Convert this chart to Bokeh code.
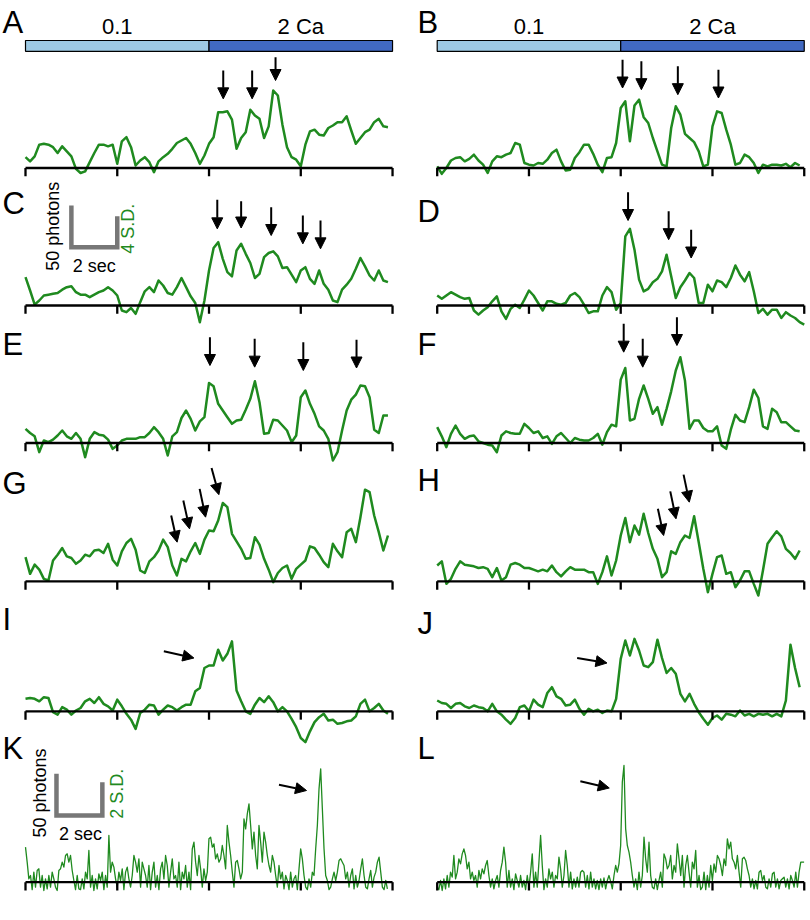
import numpy as np
from bokeh.plotting import figure
from bokeh.layouts import row
from bokeh.models import ColumnDataSource, Arrow, NormalHead, Range1d
from bokeh.embed import file_html
from bokeh.resources import INLINE
from bokeh.core.properties import value

# ---------------- data ----------------
DT = 0.2          # s per sample (smoothed traces A-J)
DT_RAW = 0.0727   # s per sample (raw traces K, L)
SEC_TICKS = [0, 4, 8, 12, 16]
COND_LABELS = ["0.1", "2 Ca"]
COND_START = [0, 8]
COND_END = [8, 16]
SCALE_SEC = 2
SCALE_PHOTONS = 50
SD_BAR_C = 37     # 4 S.D. in photons
SD_BAR_K = 40     # 2 S.D. in photons

trace_A = [13,8,14,28,29,28,25,18,26,20, 14,-1,-6,-4,7,18,28,28,26,28,
           5,32,37,25,3,9,13,7,-5,8, 13,17,23,30,33,36,29,18,5,15,
           29,37,67,67,68,58,23,36,43,70, 63,59,36,50,93,87,52,25,13,10,
           2,28,44,46,40,39,48,51,55,55, 62,45,29,36,43,46,55,59,50,49]
trace_B = [2,-7,0,9,12,13,8,11,16,9, 4,-6,8,14,13,16,18,30,28,6,
           4,3,6,5,10,18,22,8,-3,-2, 12,19,28,28,17,4,-5,12,13,30,
           72,80,32,75,82,61,54,36,20,4, 2,48,74,64,41,36,31,20,2,4,
           50,68,66,46,28,4,6,16,13,6, -6,4,2,4,4,3,5,1,6,3]
trace_C = [34,18,1,6,12,13,14,15,19,22, 23,16,13,13,10,13,16,18,22,18,
           12,-6,-8,-3,-10,4,17,22,16,30, 24,15,13,22,33,22,11,3,-20,6,
           42,69,76,56,40,35,66,74,62,51, 33,38,58,63,65,59,45,46,37,28,
           42,46,32,26,42,26,19,6,4,19, 25,32,44,57,47,36,30,42,30,28]
trace_D = [12,8,12,16,13,10,8,9,-6,-11, -6,-2,5,11,-7,-16,-4,1,-3,7,
           18,12,3,-6,5,5,2,1,3,12, 15,10,1,-9,-7,-7,12,22,16,-5,
           3,83,92,67,31,17,20,28,32,41, 61,35,9,22,30,39,33,3,3,25,
           17,30,28,22,33,48,37,29,40,17, -9,-4,-11,-5,-5,-15,-8,-12,-15,-20,-23]
trace_E = [17,12,8,-11,3,1,4,9,15,8, 5,12,5,-17,5,13,10,9,4,-7,
           -3,3,5,5,5,7,7,12,19,13, 5,-15,8,13,30,39,29,15,26,31,
           72,68,47,39,31,23,27,28,40,53, 74,49,11,12,28,27,21,15,1,9,
           55,63,47,35,20,15,5,-21,-11,15, 39,52,58,69,68,55,16,12,33,33]
trace_F = [19,8,-5,11,21,11,5,8,9,2, 0,-2,-3,-11,9,14,12,11,11,23,
           18,12,14,6,8,-1,8,12,6,0, 6,4,3,3,6,11,-2,13,22,20,
           76,90,27,29,53,69,53,35,43,22, 41,62,87,103,75,17,27,27,18,14,
           14,20,-3,-7,16,34,27,25,43,64, 54,20,17,41,37,25,25,20,15,14]
trace_G = [29,9,20,14,3,1,25,32,40,30, 28,21,25,32,30,37,38,34,45,26,
           19,36,46,51,38,13,10,24,29,37, 50,41,19,7,27,24,36,46,33,50,
           61,60,73,94,89,57,48,39,27,28, 53,44,27,14,-1,10,16,19,3,15,
           20,25,42,40,32,23,17,45,36,29, 59,63,47,77,110,107,79,59,37,55]
trace_H = [19,24,-3,3,15,24,20,19,18,16, 17,15,5,16,1,5,20,22,20,16,
           16,14,12,14,12,19,11,6,12,17, 14,14,14,11,11,-3,11,30,7,25,
           55,76,47,67,56,81,58,39,27,5, 11,36,33,47,55,52,78,47,15,-13,
           9,29,31,9,11,-7,1,12,12,-3, -17,13,45,53,60,54,39,34,27,37]
trace_I = [15,16,15,12,17,16,-1,-4,5,2, -4,1,4,12,15,10,17,9,6,1,
           14,6,-3,-10,-21,-2,2,8,7,-4, 2,7,5,1,5,8,8,24,28,52,
           55,55,74,61,69,84,25,12,0,-3, 8,16,11,18,11,0,5,0,-9,-19,
           -32,-37,-24,-13,-7,-3,-11,-10,-15,-14, -12,-11,-6,9,14,0,4,9,1,-3]
trace_J = [13,10,9,4,9,10,6,4,7,5, 4,0,9,0,-4,-10,-15,-8,5,7,
           0,14,8,5,22,29,18,15,7,8, 14,3,-4,3,0,2,-2,1,0,15,
           63,85,67,87,73,55,53,59,86,64, 46,52,45,21,12,21,9,-1,-9,-16,
           -8,-5,-10,-3,-4,-6,1,-5,-3,-6, -3,-4,-3,-6,-3,-6,13,80,52,29]
trace_K = [42,24,4,8,-9,12,-6,14,16,-6,8,-10,4,-8,8,-6,12,4,-6,-10,
           14,16,24,18,32,34,24,32,14,2,-9,8,-8,-9,4,-8,12,4,38,-6,
           8,-10,4,-8,10,2,12,-9,8,-6,56,12,24,18,4,-6,12,2,16,-9,
           12,18,4,-6,8,32,24,12,28,-6,24,16,8,-6,20,-9,12,24,-6,8,
           -9,16,24,4,32,20,-6,12,28,4,8,-6,24,-9,12,4,20,-6,12,-9,
           40,48,24,8,32,16,-6,16,2,12,52,54,42,46,28,34,24,28,44,32,
           16,68,48,32,12,-6,24,26,16,4,12,76,64,82,94,68,40,60,32,16,
           68,48,24,60,48,32,20,12,32,24,8,-6,20,4,12,-8,8,2,-9,12,
           -6,4,8,-9,16,40,28,8,-6,-9,4,-6,12,8,40,68,112,136,88,40,
           8,2,-9,-6,4,12,2,12,26,28,24,20,4,12,-6,8,16,-8,8,-6,
           2,16,28,8,-6,-8,4,14,-6,6,12,24,30,12,-6,-9,2,-8]
trace_L = [-6,-9,2,-10,4,-8,8,-6,12,6,32,4,12,28,22,34,40,32,16,24,
           4,12,2,8,-6,14,4,16,10,20,26,8,-6,4,-8,2,8,-6,14,24,
           42,24,-6,14,-6,4,-9,10,2,-6,8,-6,2,-9,8,-6,12,34,-6,12,
           -6,24,56,20,-9,4,-6,16,4,12,-6,8,4,30,16,-6,8,38,20,-6,
           12,-8,4,-6,6,-6,12,14,12,-6,8,-8,12,-6,4,-8,2,-9,4,-6,
           5,-8,2,8,1,-8,8,20,12,22,44,120,140,64,44,36,24,8,-6,4,
           -9,12,-6,8,54,28,12,48,8,-6,-8,4,-9,2,12,-6,34,28,16,20,
           32,4,20,12,46,28,8,32,-6,20,32,12,-6,24,16,38,-6,8,-9,-6,
           12,-9,8,-6,20,2,22,12,32,28,20,8,28,20,52,40,48,28,24,16,
           32,12,-6,28,30,26,16,8,-6,4,-8,2,-8,12,14,2,8,-6,-8,4,
           -6,10,12,-6,4,-8,2,4,6,-6,4,-8,8,2,-6,12,-6,12,24,24,24]

# arrows: (t_start, photons_start, t_end, photons_end) relative to each panel's baseline
arrows_A = [(8.62,117,8.62,83), (9.88,117,9.88,83), (10.9,133,10.9,105)]
arrows_B = [(8.08,130,8.08,96), (8.9,128,8.9,94), (10.49,122,10.49,88), (12.26,118,12.26,84)]
arrows_C = [(8.36,127,8.36,92), (9.4,125,9.4,93), (10.71,118,10.71,84), (12.09,108,12.09,74), (12.86,102,12.86,68)]
arrows_D = [(8.32,136,8.32,102), (10.09,113,10.09,79), (11.07,91,11.07,57)]
arrows_E = [(8.04,127,8.04,93), (9.99,125,9.99,91), (12.11,121,12.11,87), (14.43,124,14.43,90)]
arrows_F = [(8.13,143,8.13,109), (8.96,125,8.96,91), (10.45,151,10.45,117)]
arrows_G = [(6.35,79,6.61,47), (6.88,97,7.15,63), (7.59,111,7.85,77), (8.11,136,8.43,104)]
arrows_H = [(9.62,87,9.87,55), (10.16,108,10.41,75), (10.74,128,10.99,95)]
arrows_I = [(6.03,72,7.34,64)]
arrows_J = [(6.1,64,7.4,58)]
arrows_K = [(11.05,117,12.25,110)]
arrows_L = [(6.24,121,7.5,113)]

# ---------------- layout / style ----------------
GREEN = "#1f8a1f"
GRAY = "#777777"
LIGHT_BLUE = "#9ecae4"
DARK_BLUE = "#4169c2"
FONT = value("Liberation Sans")
H = 920
Y_TOP = 1104
ROW_OFFSET = [903, 738, 573, 407, 251, 46]
TICK_LEN = 10
# vertical centre of each panel letter, photons above that panel's baseline
LETTER_Y = {"A": 175, "B": 175, "C": 122, "D": 113, "E": 118, "F": 118,
            "G": 118, "H": 121, "I": 110, "J": 106, "K": 160, "L": 161}


def make_fig(width, x0, x1):
    p = figure(width=width, height=H, x_range=Range1d(x0, x1), y_range=Range1d(0, Y_TOP),
               toolbar_location=None, output_backend="svg",
               x_axis_location=None, y_axis_location=None, min_border=0)
    p.grid.visible = False
    p.outline_line_color = None
    p.background_fill_color = "white"
    return p


left = make_fig(405, -1.090, 16.565)
right = make_fig(405, -1.382, 16.273)

panels = [
    ("A", left, 0, trace_A, DT, 2.5, arrows_A),
    ("B", right, 0, trace_B, DT, 2.5, arrows_B),
    ("C", left, 1, trace_C, DT, 2.5, arrows_C),
    ("D", right, 1, trace_D, DT, 2.5, arrows_D),
    ("E", left, 2, trace_E, DT, 2.5, arrows_E),
    ("F", right, 2, trace_F, DT, 2.5, arrows_F),
    ("G", left, 3, trace_G, DT, 2.5, arrows_G),
    ("H", right, 3, trace_H, DT, 2.5, arrows_H),
    ("I", left, 4, trace_I, DT, 2.5, arrows_I),
    ("J", right, 4, trace_J, DT, 2.5, arrows_J),
    ("K", left, 5, trace_K, DT_RAW, 1.3, arrows_K),
    ("L", right, 5, trace_L, DT_RAW, 1.3, arrows_L),
]

for name, p, r, vals, dt, lw, arrs in panels:
    off = ROW_OFFSET[r]
    v = np.array(vals, dtype=float)
    t = np.arange(len(v)) * dt
    p.line(t, off + v, line_color=GREEN, line_width=lw, line_join="round")
    # baseline + ticks
    p.segment(x0=[SEC_TICKS[0]], y0=[off], x1=[SEC_TICKS[-1]], y1=[off],
              line_color="black", line_width=2.3)
    p.segment(x0=SEC_TICKS, y0=[off] * len(SEC_TICKS), x1=SEC_TICKS,
              y1=[off - TICK_LEN] * len(SEC_TICKS), line_color="black", line_width=2.3)
    # arrows
    a = np.array(arrs, dtype=float)
    src = ColumnDataSource(dict(x0=a[:, 0], y0=off + a[:, 1], x1=a[:, 2], y1=off + a[:, 3]))
    p.add_layout(Arrow(end=NormalHead(size=11, fill_color="black", line_color="black", line_width=1),
                       x_start="x0", y_start="y0", x_end="x1", y_end="y1", source=src,
                       line_color="black", line_width=2))
    # panel letter
    lx = -1.0 if p is left else -0.86
    p.text(x=[lx], y=[off + LETTER_Y[name]], text=[name], text_font=FONT,
           text_font_size="31px", text_align="left", text_baseline="middle",
           text_color="black")

# condition bars on top of A and B
for p in (left, right):
    off = ROW_OFFSET[0]
    p.quad(left=COND_START, right=COND_END, bottom=[off + 140] * 2, top=[off + 153] * 2,
           fill_color=[LIGHT_BLUE, DARK_BLUE], line_color="black", line_width=1.2)
    p.text(x=[(s + e) / 2 for s, e in zip(COND_START, COND_END)], y=[off + 170] * 2,
           text=COND_LABELS, text_font=FONT, text_font_size="22px", text_align="center",
           text_baseline="middle", text_color="black")

# scale bars (panel C and K)
for r, x_left, y_base, sd_bar, sd_label, txt in [
        (1, 2.0, 70, SD_BAR_C, "4 S.D.", dict(ph=(1.22, 95), sec=(3.0, 47), sd=(4.45, 92))),
        (5, 1.35, 80, SD_BAR_K, "2 S.D.", dict(ph=(0.62, 107), sec=(2.4, 58), sd=(3.97, 106)))]:
    off = ROW_OFFSET[r]
    xs = [x_left, x_left, x_left + SCALE_SEC, x_left + SCALE_SEC]
    ys = [off + y_base + SCALE_PHOTONS, off + y_base, off + y_base, off + y_base + sd_bar]
    left.line(xs, ys, line_color=GRAY, line_width=4.5, line_join="miter")
    left.text(x=[txt["ph"][0]], y=[off + txt["ph"][1]], text=["%d photons" % SCALE_PHOTONS],
              angle=np.pi / 2, text_font=FONT, text_font_size="18px", text_align="center",
              text_baseline="middle", text_color="black")
    left.text(x=[txt["sec"][0]], y=[off + txt["sec"][1]], text=["%d sec" % SCALE_SEC],
              text_font=FONT, text_font_size="18px", text_align="center",
              text_baseline="middle", text_color="black")
    left.text(x=[txt["sd"][0]], y=[off + txt["sd"][1]], text=[sd_label],
              angle=np.pi / 2, text_font=FONT, text_font_size="18px", text_align="center",
              text_baseline="middle", text_color=GREEN)

layout = row(left, right, spacing=0)
open("out.html", "w").write(file_html(layout, INLINE))
